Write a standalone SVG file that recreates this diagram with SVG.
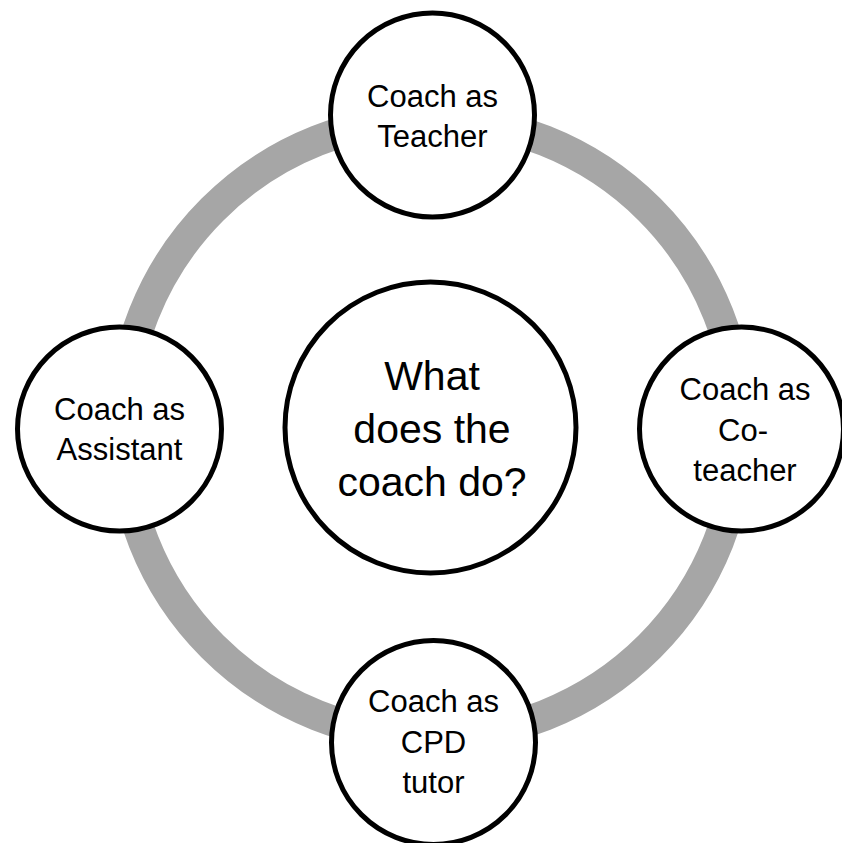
<svg xmlns="http://www.w3.org/2000/svg" width="842" height="843" viewBox="0 0 842 843">
  <style>
    .node { fill: #ffffff; stroke: #000000; stroke-width: 5; }
    .ring { fill: none; stroke: #a6a6a6; stroke-width: 31; }
    .lbl { font-family: "Liberation Sans", Arial, sans-serif; font-size: 31px; fill: #000000; text-anchor: middle; }
    .big { font-family: "Liberation Sans", Arial, sans-serif; font-size: 41px; fill: #000000; text-anchor: middle; }
  </style>
  <rect width="842" height="843" fill="#ffffff"/>
  <g id="connectors">
    <circle class="ring" cx="431" cy="428" r="309"/>
  </g>
  <g id="node-teacher">
    <circle class="node" cx="432.5" cy="115" r="102"/>
    <text class="lbl" x="432.5" y="107">Coach as</text>
    <text class="lbl" x="432.5" y="147">Teacher</text>
  </g>
  <g id="node-assistant">
    <circle class="node" cx="119.5" cy="429" r="102"/>
    <text class="lbl" x="119.5" y="420">Coach as</text>
    <text class="lbl" x="119.5" y="460">Assistant</text>
  </g>
  <g id="node-coteacher">
    <circle class="node" cx="741.5" cy="429" r="102"/>
    <text class="lbl" x="745" y="400">Coach as</text>
    <text class="lbl" x="743" y="441">Co-</text>
    <text class="lbl" x="745" y="481">teacher</text>
  </g>
  <g id="node-cpd">
    <circle class="node" cx="433.5" cy="742.5" r="102"/>
    <text class="lbl" x="433.5" y="712">Coach as</text>
    <text class="lbl" x="433.5" y="753">CPD</text>
    <text class="lbl" x="433.5" y="793">tutor</text>
  </g>
  <g id="node-center">
    <circle class="node" cx="430.5" cy="427.5" r="145.5"/>
    <text class="big" x="432" y="390">What</text>
    <text class="big" x="432" y="443">does the</text>
    <text class="big" x="432" y="496">coach do?</text>
  </g>
</svg>
